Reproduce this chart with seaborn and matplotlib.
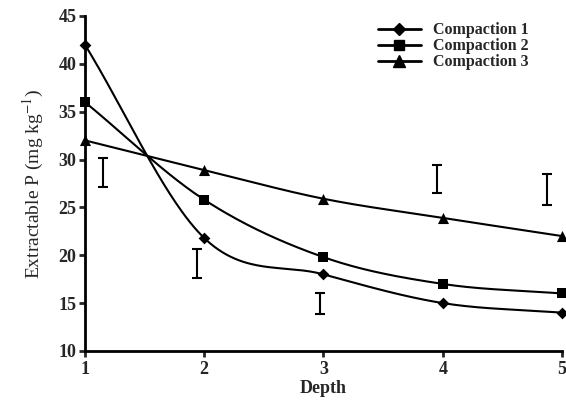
import numpy as np
import pandas as pd
import matplotlib
matplotlib.use("Agg")
import matplotlib.pyplot as plt
from matplotlib.lines import Line2D
import seaborn as sns

depth = [1, 2, 3, 4, 5]
compaction1 = [42.0, 21.8, 18.0, 15.0, 14.0]
compaction2 = [36.0, 25.8, 19.8, 17.0, 16.0]
compaction3 = [32.0, 28.9, 25.9, 23.9, 22.0]
series_names = ["Compaction 1", "Compaction 2", "Compaction 3"]

lsd_x = [1.15, 1.94, 2.97, 3.95, 4.87]
lsd_center = [28.65, 19.15, 14.95, 27.95, 26.85]
lsd_half = [1.55, 1.50, 1.05, 1.45, 1.65]

yticks = [10, 15, 20, 25, 30, 35, 40, 45]
xticks = [1, 2, 3, 4, 5]

sns.set_theme(style="ticks")
plt.rcParams["font.family"] = ["Liberation Serif", "DejaVu Serif"]
plt.rcParams["mathtext.fontset"] = "stix"

df = pd.DataFrame({
    "Depth": depth * 3,
    "P": compaction1 + compaction2 + compaction3,
    "series": sum([[n] * len(depth) for n in series_names], []),
})

fig = plt.figure(figsize=(5.66, 4.09), dpi=100)
ax = fig.add_axes([0.150, 0.142, 0.8430, 0.819])

markers = {"Compaction 1": "D", "Compaction 2": "s", "Compaction 3": "^"}
msizes = {"Compaction 1": 6.0, "Compaction 2": 7.0, "Compaction 3": 8.0}


def catmull(xs, ys, n=60):
    xs = np.asarray(xs, float)
    ys = np.asarray(ys, float)
    m = np.zeros_like(ys)
    m[0] = (ys[1] - ys[0]) / (xs[1] - xs[0])
    m[-1] = (ys[-1] - ys[-2]) / (xs[-1] - xs[-2])
    m[1:-1] = (ys[2:] - ys[:-2]) / (xs[2:] - xs[:-2])
    ox, oy = [], []
    for i in range(len(xs) - 1):
        h = xs[i + 1] - xs[i]
        t = np.linspace(0, 1, n)
        h00 = 2 * t**3 - 3 * t**2 + 1
        h10 = t**3 - 2 * t**2 + t
        h01 = -2 * t**3 + 3 * t**2
        h11 = t**3 - t**2
        ox.append(xs[i] + t * h)
        oy.append(h00 * ys[i] + h10 * h * m[i] + h01 * ys[i + 1] + h11 * h * m[i + 1])
    return np.concatenate(ox), np.concatenate(oy)


handles = []
for name in series_names:
    sub = df[df["series"] == name]
    sx, sy = catmull(sub["Depth"].values, sub["P"].values)
    ax.plot(sx, sy, color="black", lw=1.5, clip_on=False, zorder=2)
    sns.scatterplot(x=sub["Depth"], y=sub["P"], marker=markers[name], color="black",
                    s=msizes[name] ** 2, edgecolor="black", linewidth=0, ax=ax,
                    clip_on=False, zorder=3, legend=False)
    handles.append(Line2D([], [], color="black", lw=2.0, marker=markers[name],
                          markersize=msizes[name], label=name))

ax.errorbar(lsd_x, lsd_center, yerr=lsd_half, fmt="none", ecolor="black",
            elinewidth=1.5, capsize=3.5, capthick=1.5, zorder=2)

ax.set_xlim(1, 5)
ax.set_ylim(10, 45)
ax.set_xticks(xticks)
ax.set_yticks(yticks)
ax.tick_params(axis="both", direction="out", length=4, width=2.0, labelsize=13, pad=2)
ax.tick_params(axis="x", pad=3)
for lab in ax.get_xticklabels() + ax.get_yticklabels():
    lab.set_fontweight("bold")
for sp in ["left", "bottom"]:
    ax.spines[sp].set_linewidth(2.0)
    ax.spines[sp].set_color("black")
sns.despine(ax=ax)

ax.set_xlabel("Depth", fontsize=13, fontweight="bold", labelpad=2)
ax.set_ylabel(r"Extractable P (mg kg$^{-1}$)", fontsize=14, labelpad=9)

leg = ax.legend(handles=handles, loc="upper left", bbox_to_anchor=(0.60, 1.0),
                frameon=False, fontsize=11.5, handlelength=2.7, labelspacing=0.0,
                handletextpad=0.8, borderaxespad=0,
                prop={"family": ["Liberation Serif"], "weight": "bold", "size": 11.5})

fig.savefig("out.png", dpi=100)
